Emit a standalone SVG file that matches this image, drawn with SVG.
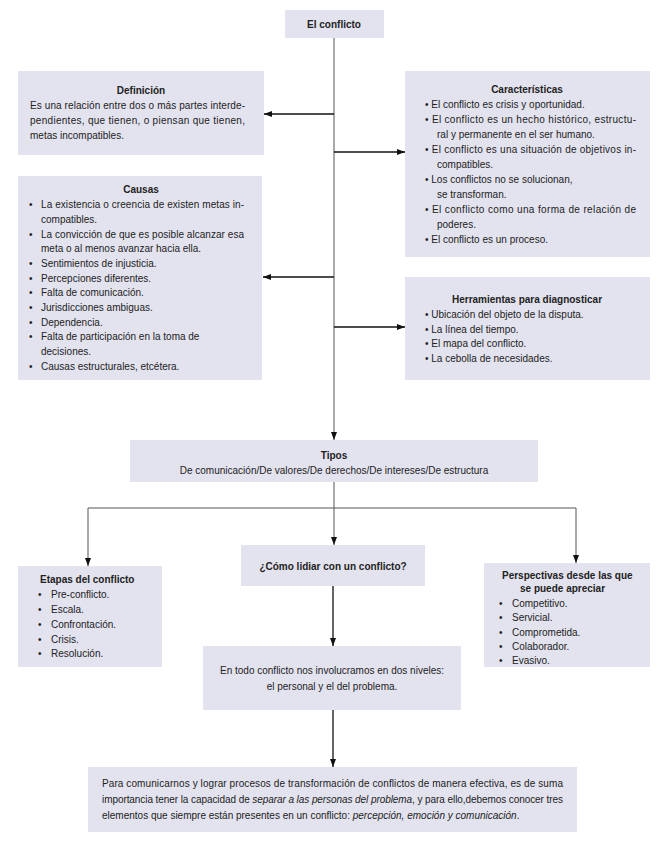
<svg xmlns="http://www.w3.org/2000/svg" width="664" height="844" viewBox="0 0 664 844">
<defs>
<marker id="ah" markerUnits="userSpaceOnUse" markerWidth="9" markerHeight="7" refX="8" refY="3" orient="auto">
<path d="M0,0 L8,3 L0,6 z" fill="#111"/>
</marker>
<style>
.box{fill:#e3e3ef;}
text{font-family:"Liberation Sans",Arial,sans-serif;font-size:10px;fill:#222;}
.b{font-weight:bold;}
.c{text-anchor:middle;}
.ln{fill:none;stroke:#555;stroke-width:1;}
.lk{fill:none;stroke:#111;stroke-width:1.3;}
</style>
</defs>
<rect width="664" height="844" fill="#fff"/>

<g id="connectors">
<path class="ln" d="M334 38 V440" marker-end="url(#ah)"/>
<path class="lk" d="M334 114 H264" marker-end="url(#ah)"/>
<path class="lk" d="M334 152 H405" marker-end="url(#ah)"/>
<path class="lk" d="M334 277 H263" marker-end="url(#ah)"/>
<path class="lk" d="M334 327 H405" marker-end="url(#ah)"/>
<path class="ln" d="M334 482 V508"/>
<path class="ln" d="M88 508 H576"/>
<path class="ln" d="M88 508 V566" marker-end="url(#ah)"/>
<path class="ln" d="M334 508 V545" marker-end="url(#ah)"/>
<path class="ln" d="M576 508 V563" marker-end="url(#ah)"/>
<path class="lk" d="M333 586 V646" marker-end="url(#ah)"/>
<path class="lk" d="M333 710 V767" marker-end="url(#ah)"/>
</g>

<g id="el-conflicto">
<rect class="box" x="285" y="10" width="99" height="28"/>
<text class="b c" x="334" y="28">El conflicto</text>
</g>

<g id="definicion">
<rect class="box" x="18" y="71" width="246" height="84"/>
<text class="b c" x="141" y="94">Definición</text>
<text x="30" y="109" textLength="215" lengthAdjust="spacing">Es una relación entre dos o más partes interde-</text>
<text x="30" y="124" textLength="215" lengthAdjust="spacing">pendientes, que tienen, o piensan que tienen,</text>
<text x="30" y="139">metas incompatibles.</text>
</g>

<g id="caracteristicas">
<rect class="box" x="405" y="71" width="245" height="186"/>
<text class="b c" x="527" y="93">Características</text>
<text x="425" y="108">• El conflicto es crisis y oportunidad.</text>
<text x="425" y="123" textLength="211" lengthAdjust="spacing">• El conflicto es un hecho histórico, estructu-</text>
<text x="437" y="138">ral y permanente en el ser humano.</text>
<text x="425" y="153" textLength="211" lengthAdjust="spacing">• El conflicto es una situación de objetivos in-</text>
<text x="437" y="168">compatibles.</text>
<text x="425" y="183">• Los conflictos no se solucionan,</text>
<text x="437" y="198">se transforman.</text>
<text x="425" y="213" textLength="211" lengthAdjust="spacing">• El conflicto como una forma de relación de</text>
<text x="437" y="228">poderes.</text>
<text x="425" y="243">• El conflicto es un proceso.</text>
</g>

<g id="causas">
<rect class="box" x="18" y="176" width="244" height="204"/>
<text class="b c" x="141" y="193">Causas</text>
<g>
<text x="29" y="208">•</text><text x="41" y="208" textLength="203" lengthAdjust="spacing">La existencia o creencia de existen metas in-</text>
<text x="41" y="223">compatibles.</text>
<text x="29" y="238">•</text><text x="41" y="238" textLength="203" lengthAdjust="spacing">La convicción de que es posible alcanzar esa</text>
<text x="41" y="252">meta o al menos avanzar hacia ella.</text>
<text x="29" y="267">•</text><text x="41" y="267">Sentimientos de injusticia.</text>
<text x="29" y="282">•</text><text x="41" y="282">Percepciones diferentes.</text>
<text x="29" y="296">•</text><text x="41" y="296">Falta de comunicación.</text>
<text x="29" y="311">•</text><text x="41" y="311">Jurisdicciones ambiguas.</text>
<text x="29" y="326">•</text><text x="41" y="326">Dependencia.</text>
<text x="29" y="340">•</text><text x="41" y="340">Falta de participación en la toma de</text>
<text x="41" y="355">decisiones.</text>
<text x="29" y="370">•</text><text x="41" y="370">Causas estructurales, etcétera.</text>
</g>
</g>

<g id="herramientas">
<rect class="box" x="405" y="277" width="245" height="103"/>
<text class="b c" x="527" y="303">Herramientas para diagnosticar</text>
<text x="425" y="318">• Ubicación del objeto de la disputa.</text>
<text x="425" y="333">• La línea del tiempo.</text>
<text x="425" y="347">• El mapa del conflicto.</text>
<text x="425" y="362">• La cebolla de necesidades.</text>
</g>

<g id="tipos">
<rect class="box" x="130" y="440" width="408" height="42"/>
<text class="b c" x="334" y="459">Tipos</text>
<text class="c" x="334" y="474">De comunicación/De valores/De derechos/De intereses/De estructura</text>
</g>

<g id="etapas">
<rect class="box" x="18" y="566" width="144" height="101"/>
<text class="b" x="40" y="583">Etapas del conflicto</text>
<text x="38" y="598">•</text><text x="51" y="598">Pre-conflicto.</text>
<text x="38" y="613">•</text><text x="51" y="613">Escala.</text>
<text x="38" y="628">•</text><text x="51" y="628">Confrontación.</text>
<text x="38" y="643">•</text><text x="51" y="643">Crisis.</text>
<text x="38" y="657">•</text><text x="51" y="657">Resolución.</text>
</g>

<g id="como-lidiar">
<rect class="box" x="241" y="545" width="184" height="41"/>
<text class="b c" x="333" y="570">¿Cómo lidiar con un conflicto?</text>
</g>

<g id="perspectivas">
<rect class="box" x="484" y="563" width="166" height="104"/>
<text class="b" x="502" y="579">Perspectivas desde las que</text>
<text class="b" x="520" y="592">se puede apreciar</text>
<text x="499" y="607">•</text><text x="512" y="607">Competitivo.</text>
<text x="499" y="621">•</text><text x="512" y="621">Servicial.</text>
<text x="499" y="636">•</text><text x="512" y="636">Comprometida.</text>
<text x="499" y="650">•</text><text x="512" y="650">Colaborador.</text>
<text x="499" y="664">•</text><text x="512" y="664">Evasivo.</text>
</g>

<g id="en-todo">
<rect class="box" x="203" y="646" width="258" height="64"/>
<text class="c" x="332" y="674">En todo conflicto nos involucramos en dos niveles:</text>
<text class="c" x="332" y="690">el personal y el del problema.</text>
</g>

<g id="para-comunicarnos">
<rect class="box" x="88" y="767" width="489" height="65"/>
<text x="102" y="787" textLength="461" lengthAdjust="spacing">Para comunicarnos y lograr procesos de transformación de conflictos de manera efectiva, es de suma</text>
<text x="102" y="803" textLength="461" lengthAdjust="spacing">importancia tener la capacidad de <tspan font-style="italic">separar a las personas del problema</tspan>, y para ello,debemos conocer tres</text>
<text x="102" y="819">elementos que siempre están presentes en un conflicto: <tspan font-style="italic">percepción, emoción y comunicación</tspan>.</text>
</g>
</svg>
